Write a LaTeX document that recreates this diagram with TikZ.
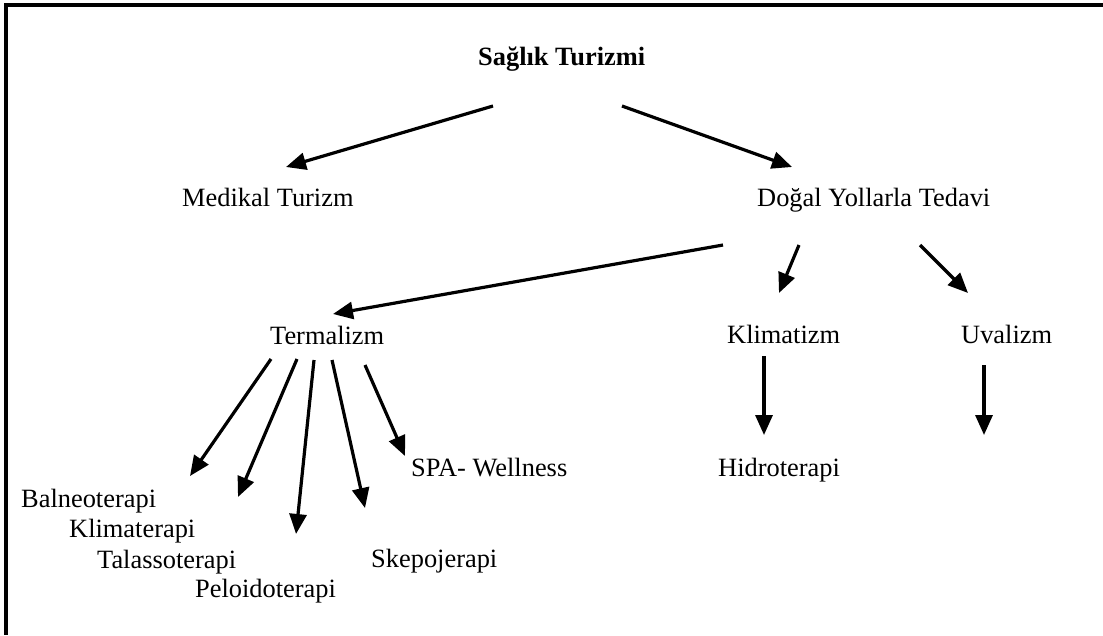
\documentclass[tikz,border=0pt]{standalone}
\usepackage{fontspec}
\setmainfont{Liberation Serif}
\usetikzlibrary{arrows.meta}
\begin{document}
\begin{tikzpicture}[x=1pt,y=-1pt,
  lbl/.style={inner sep=0pt,anchor=base west,font=\fontsize{26.4}{30}\selectfont},
  arr/.style={line width=3.2pt,-{Triangle[length=20pt,width=17pt]}},
  frame/.style={line width=3.2pt}]
\useasboundingbox (0,0) rectangle (1103,635);
% open frame: top and left edges
\draw[frame] (1103,5) -- (6,5) -- (6,635);

% labels
\node[lbl,font=\fontsize{26.4}{30}\selectfont\bfseries] (saglik) at (478,65) {Sağlık Turizmi};
\node[lbl] (medikal) at (182,206) {Medikal Turizm};
\node[lbl] (dogal) at (757,206) {Doğal Yollarla Tedavi};
\node[lbl] (termal) at (270,344) {Termalizm};
\node[lbl] (klimatizm) at (727,343) {Klimatizm};
\node[lbl] (uvalizm) at (961,343) {Uvalizm};
\node[lbl] (hidro) at (718,476) {Hidroterapi};
\node[lbl] (balneo) at (21,507) {Balneoterapi};
\node[lbl] (klimater) at (69,537) {Klimaterapi};
\node[lbl] (talasso) at (97,568) {Talassoterapi};
\node[lbl] (peloido) at (195,597) {Peloidoterapi};
\node[lbl] (skepo) at (371,567) {Skepojerapi};
\node[lbl] (spa) at (411,476) {SPA- Wellness};

% connector ends
\coordinate (s1) at (493,106);  \coordinate (t1) at (286,167);
\coordinate (s2) at (622,106);  \coordinate (t2) at (792,167);
\coordinate (s3) at (723,245);  \coordinate (t3) at (333,314);
\coordinate (s4) at (799,245);  \coordinate (t4) at (779,293);
\coordinate (s5) at (920,245);  \coordinate (t5) at (968,293);
\coordinate (s6) at (764,356);  \coordinate (t6) at (764,435);
\coordinate (s7) at (984,365);  \coordinate (t7) at (984,435);
\coordinate (s8) at (271,359);  \coordinate (t8) at (190,476);
\coordinate (s9) at (297,359);  \coordinate (t9) at (238,497);
\coordinate (s10) at (314,360); \coordinate (t10) at (296,534);
\coordinate (s11) at (332,360); \coordinate (t11) at (365,508);
\coordinate (s12) at (365,365); \coordinate (t12) at (405,456);

% Sağlık Turizmi branches
\draw[arr] (s1) -- (t1);
\draw[arr] (s2) -- (t2);
% Doğal Yollarla Tedavi branches
\draw[arr] (s3) -- (t3);
\draw[arr] (s4) -- (t4);
\draw[arr] (s5) -- (t5);
\draw[arr] (s6) -- (t6);
\draw[arr] (s7) -- (t7);
% Termalizm branches
\draw[arr] (s8) -- (t8);
\draw[arr] (s9) -- (t9);
\draw[arr] (s10) -- (t10);
\draw[arr] (s11) -- (t11);
\draw[arr] (s12) -- (t12);
\end{tikzpicture}
\end{document}
